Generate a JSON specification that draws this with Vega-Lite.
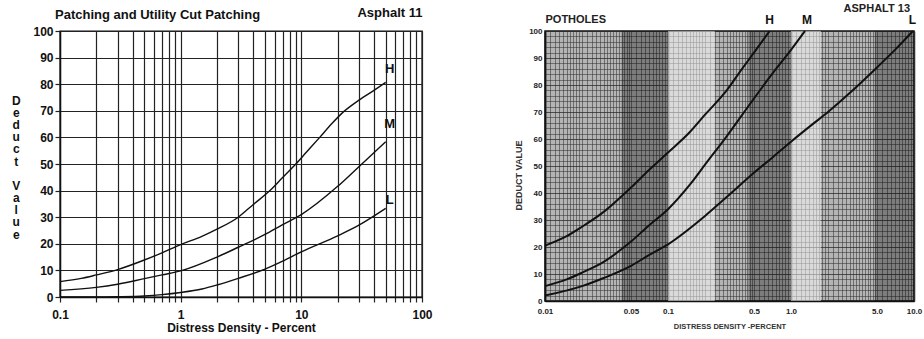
{
  "$schema": "https://vega.github.io/schema/vega-lite/v6.json",
  "background": "white",
  "padding": {"left": 10, "top": 2, "right": 0, "bottom": 0},
  "spacing": 80,
  "config": {"font": "Liberation Sans", "view": {"stroke": null}},
  "datasets": {
    "patching": [
      {"severity": "H", "density": 0.1, "deduct": 5.8},
      {"severity": "H", "density": 0.15, "deduct": 7},
      {"severity": "H", "density": 0.2, "deduct": 8.3},
      {"severity": "H", "density": 0.3, "deduct": 10.3},
      {"severity": "H", "density": 0.5, "deduct": 13.9},
      {"severity": "H", "density": 0.7, "deduct": 16.6},
      {"severity": "H", "density": 1, "deduct": 19.7},
      {"severity": "H", "density": 1.5, "deduct": 22.8},
      {"severity": "H", "density": 2, "deduct": 25.5},
      {"severity": "H", "density": 3, "deduct": 30},
      {"severity": "H", "density": 4, "deduct": 34.8},
      {"severity": "H", "density": 5.5, "deduct": 40},
      {"severity": "H", "density": 7, "deduct": 44.9},
      {"severity": "H", "density": 9, "deduct": 50},
      {"severity": "H", "density": 11, "deduct": 54.4},
      {"severity": "H", "density": 14.2, "deduct": 60},
      {"severity": "H", "density": 18, "deduct": 65.3},
      {"severity": "H", "density": 22.2, "deduct": 69.5},
      {"severity": "H", "density": 30, "deduct": 74},
      {"severity": "H", "density": 40, "deduct": 77.7},
      {"severity": "H", "density": 50, "deduct": 80.7},
      {"severity": "M", "density": 0.1, "deduct": 2.5},
      {"severity": "M", "density": 0.2, "deduct": 3.6},
      {"severity": "M", "density": 0.3, "deduct": 4.8},
      {"severity": "M", "density": 0.5, "deduct": 6.9},
      {"severity": "M", "density": 0.7, "deduct": 8.3},
      {"severity": "M", "density": 1, "deduct": 9.8},
      {"severity": "M", "density": 2, "deduct": 15},
      {"severity": "M", "density": 3, "deduct": 18.7},
      {"severity": "M", "density": 5, "deduct": 23.5},
      {"severity": "M", "density": 7, "deduct": 27.2},
      {"severity": "M", "density": 10, "deduct": 31},
      {"severity": "M", "density": 20, "deduct": 41.6},
      {"severity": "M", "density": 30, "deduct": 49},
      {"severity": "M", "density": 50, "deduct": 58.4},
      {"severity": "L", "density": 0.1, "deduct": 0},
      {"severity": "L", "density": 0.2, "deduct": 0},
      {"severity": "L", "density": 0.3, "deduct": 0.1},
      {"severity": "L", "density": 0.5, "deduct": 0.4},
      {"severity": "L", "density": 0.7, "deduct": 0.9},
      {"severity": "L", "density": 1, "deduct": 1.7},
      {"severity": "L", "density": 1.5, "deduct": 3},
      {"severity": "L", "density": 2, "deduct": 4.5},
      {"severity": "L", "density": 3, "deduct": 7},
      {"severity": "L", "density": 5, "deduct": 10.5},
      {"severity": "L", "density": 7, "deduct": 13.5},
      {"severity": "L", "density": 10, "deduct": 17},
      {"severity": "L", "density": 20, "deduct": 23},
      {"severity": "L", "density": 30, "deduct": 27},
      {"severity": "L", "density": 50, "deduct": 33.3}
    ],
    "patchingLabels": [
      {"severity": "H", "density": 54, "deduct": 85.6},
      {"severity": "M", "density": 54, "deduct": 65.2},
      {"severity": "L", "density": 54, "deduct": 36.4}
    ],
    "potholes": [
      {"severity": "H", "density": 0.01, "deduct": 20.5},
      {"severity": "H", "density": 0.015, "deduct": 24},
      {"severity": "H", "density": 0.02, "deduct": 27.5},
      {"severity": "H", "density": 0.03, "deduct": 33},
      {"severity": "H", "density": 0.05, "deduct": 42},
      {"severity": "H", "density": 0.07, "deduct": 48.5},
      {"severity": "H", "density": 0.1, "deduct": 55},
      {"severity": "H", "density": 0.15, "deduct": 62.5},
      {"severity": "H", "density": 0.2, "deduct": 69},
      {"severity": "H", "density": 0.3, "deduct": 78},
      {"severity": "H", "density": 0.4, "deduct": 86},
      {"severity": "H", "density": 0.5, "deduct": 92},
      {"severity": "H", "density": 0.67, "deduct": 100},
      {"severity": "M", "density": 0.01, "deduct": 5.5},
      {"severity": "M", "density": 0.015, "deduct": 8},
      {"severity": "M", "density": 0.02, "deduct": 10.5},
      {"severity": "M", "density": 0.03, "deduct": 14.5},
      {"severity": "M", "density": 0.05, "deduct": 22},
      {"severity": "M", "density": 0.07, "deduct": 28},
      {"severity": "M", "density": 0.1, "deduct": 34},
      {"severity": "M", "density": 0.15, "deduct": 43},
      {"severity": "M", "density": 0.2, "deduct": 50.5},
      {"severity": "M", "density": 0.3, "deduct": 61},
      {"severity": "M", "density": 0.5, "deduct": 75},
      {"severity": "M", "density": 0.7, "deduct": 84},
      {"severity": "M", "density": 1, "deduct": 93},
      {"severity": "M", "density": 1.3, "deduct": 100},
      {"severity": "L", "density": 0.01, "deduct": 2},
      {"severity": "L", "density": 0.02, "deduct": 5.5},
      {"severity": "L", "density": 0.03, "deduct": 8.5},
      {"severity": "L", "density": 0.05, "deduct": 13},
      {"severity": "L", "density": 0.07, "deduct": 17},
      {"severity": "L", "density": 0.1, "deduct": 21},
      {"severity": "L", "density": 0.2, "deduct": 31.5},
      {"severity": "L", "density": 0.3, "deduct": 38.5},
      {"severity": "L", "density": 0.5, "deduct": 47.5},
      {"severity": "L", "density": 0.7, "deduct": 53},
      {"severity": "L", "density": 1, "deduct": 59},
      {"severity": "L", "density": 1.5, "deduct": 65.5},
      {"severity": "L", "density": 2, "deduct": 70},
      {"severity": "L", "density": 3, "deduct": 77},
      {"severity": "L", "density": 5, "deduct": 86.5},
      {"severity": "L", "density": 7, "deduct": 93},
      {"severity": "L", "density": 9.8, "deduct": 100}
    ],
    "potholeLabels": [
      {"severity": "H", "density": 0.67, "deduct": 100},
      {"severity": "M", "density": 1.35, "deduct": 100},
      {"severity": "L", "density": 9.7, "deduct": 100}
    ],
    "bands": [
      {"from": 0.042, "to": 0.1, "tone": "dark"},
      {"from": 0.45, "to": 0.99, "tone": "dark"},
      {"from": 4.8, "to": 10, "tone": "dark"},
      {"from": 0.1, "to": 0.24, "tone": "light"},
      {"from": 1.0, "to": 1.75, "tone": "light"}
    ]
  },
  "hconcat": [
    {
      "width": 362,
      "height": 266,
      "view": {"stroke": "#111", "strokeWidth": 1.4, "fill": "white"},
      "title": {"text": "Patching and Utility Cut Patching", "anchor": "start", "frame": "group", "dx": -5, "offset": -16, "fontSize": 13, "fontWeight": "bold", "color": "#111", "font": "Liberation Sans"},
      "resolve": {"axis": {"x": "independent"}},
      "encoding": {
        "y": {
          "field": "deduct", "type": "quantitative",
          "scale": {"domain": [0, 100], "nice": false},
          "axis": {
            "orient": "left",
            "values": [0, 10, 20, 30, 40, 50, 60, 70, 80, 90, 100],
            "labelFont": "Liberation Sans", "labelFontWeight": "bold", "labelFontSize": 12, "labelColor": "#111", "labelPadding": 2,
            "tickSize": 5, "tickColor": "#222", "tickWidth": 1.2,
            "grid": true, "gridColor": "#222", "gridWidth": 1.2, "gridOpacity": 1,
            "domain": true, "domainColor": "#111", "domainWidth": 1.4,
            "title": ["D", "e", "d", "u", "c", "t", "\u200b", "V", "a", "l", "u", "e"],
            "titleAngle": 0, "titleAlign": "center", "titleBaseline": "middle", "titleLineHeight": 12.2, "titleY": 69,
            "titleFont": "Liberation Sans", "titleFontSize": 12, "titleFontWeight": "bold", "titleColor": "#111", "titlePadding": -117
          }
        }
      },
      "layer": [
        {
          "data": {"name": "patching"},
          "mark": {"type": "line", "interpolate": "monotone", "color": "#111", "strokeWidth": 1.4},
          "encoding": {
            "x": {
              "field": "density", "type": "quantitative",
              "scale": {"type": "log", "domain": [0.1, 100], "nice": false},
              "axis": {
                "orient": "bottom",
                "values": [0.1, 0.2, 0.3, 0.4, 0.5, 0.6, 0.7, 0.8, 0.9, 1, 2, 3, 4, 5, 6, 7, 8, 9, 10, 20, 30, 40, 50, 60, 70, 80, 90, 100],
                "format": "~g",
                "labelExpr": "(datum.value == 0.1 || datum.value == 1 || datum.value == 10 || datum.value == 100) ? datum.label : ''",
                "labelFlush": false, "labelOverlap": false, "labelBound": false,
                "labelFont": "Liberation Sans", "labelFontWeight": "bold", "labelFontSize": 12, "labelColor": "#111", "labelPadding": 7,
                "tickSize": 5, "tickColor": "#222", "tickWidth": 1.2,
                "grid": true, "gridColor": "#222", "gridWidth": 1.2, "gridOpacity": 1,
                "domain": true, "domainColor": "#111", "domainWidth": 1.4,
                "title": "Distress Density - Percent", "titleFont": "Liberation Sans", "titleFontSize": 12, "titleFontWeight": "bold", "titleColor": "#111", "titlePadding": 2
              }
            },
            "detail": {"field": "severity", "type": "nominal"}
          }
        },
        {
          "data": {"name": "patchingLabels"},
          "mark": {"type": "text", "font": "Liberation Sans", "fontWeight": "bold", "fontSize": 13, "color": "#111", "baseline": "middle", "align": "center"},
          "encoding": {
            "x": {
              "field": "density", "type": "quantitative",
              "scale": {"type": "log", "domain": [0.1, 100], "nice": false},
              "axis": {"orient": "top", "labels": false, "ticks": false, "domain": false, "grid": false,
                "title": "Asphalt 11", "titleAnchor": "end", "titleAlign": "right", "titlePadding": 12,
                "titleFont": "Liberation Sans", "titleFontSize": 13, "titleFontWeight": "bold", "titleColor": "#111"}
            },
            "text": {"field": "severity", "type": "nominal"}
          }
        }
      ]
    },
    {
      "width": 369,
      "height": 270,
      "view": {"fill": "#b4b4b4", "stroke": "#111", "strokeWidth": 1.5},
      "title": {"text": "ASPHALT 13", "anchor": "end", "frame": "group", "dx": -4, "offset": -1, "fontSize": 11, "fontWeight": "bold", "color": "#222", "font": "Liberation Sans"},
      "resolve": {"axis": {"x": "independent"}},
      "encoding": {
        "y": {
          "field": "deduct", "type": "quantitative",
          "scale": {"domain": [0, 100], "nice": false},
          "axis": {
            "orient": "left",
            "values": [0, 2, 4, 6, 8, 10, 12, 14, 16, 18, 20, 22, 24, 26, 28, 30, 32, 34, 36, 38, 40, 42, 44, 46, 48, 50, 52, 54, 56, 58, 60, 62, 64, 66, 68, 70, 72, 74, 76, 78, 80, 82, 84, 86, 88, 90, 92, 94, 96, 98, 100],
            "labelExpr": "datum.value % 10 == 0 ? datum.label : ''",
            "labelOverlap": false, "labelBound": false,
            "labelFont": "Liberation Sans", "labelFontWeight": "bold", "labelFontSize": 8, "labelColor": "#222", "labelPadding": 3,
            "tickSize": 0,
            "grid": true, "gridColor": "#2a2a2a", "gridOpacity": 0.85,
            "gridWidth": {"condition": {"test": "datum.value % 10 == 0", "value": 0.9}, "value": 0.6},
            "domain": true, "domainColor": "#111", "domainWidth": 1.5,
            "title": "DEDUCT VALUE", "titleFont": "Liberation Sans", "titleFontSize": 9, "titleFontWeight": "bold", "titleColor": "#333", "titlePadding": 5, "titleY": 144
          }
        }
      },
      "layer": [
        {
          "data": {"name": "bands"},
          "mark": {"type": "rect"},
          "encoding": {
            "x": {"field": "from", "type": "quantitative", "scale": {"type": "log", "domain": [0.01, 10], "nice": false}, "axis": null},
            "x2": {"field": "to"},
            "y": null,
            "color": {"field": "tone", "type": "nominal", "scale": {"domain": ["dark", "light"], "range": ["#000000", "#ffffff"]}, "legend": null},
            "opacity": {"field": "tone", "type": "nominal", "scale": {"domain": ["dark", "light"], "range": [0.3, 0.5]}, "legend": null}
          }
        },
        {
          "data": {"name": "potholes"},
          "mark": {"type": "line", "interpolate": "monotone", "color": "#111", "strokeWidth": 2},
          "encoding": {
            "x": {
              "field": "density", "type": "quantitative",
              "scale": {"type": "log", "domain": [0.01, 10], "nice": false},
              "axis": {
                "orient": "bottom",
                "values": [0.01, 0.011, 0.012, 0.013, 0.014, 0.015, 0.016, 0.017, 0.018, 0.019, 0.02, 0.022, 0.024, 0.026, 0.028, 0.03, 0.032, 0.034, 0.036, 0.038, 0.04, 0.042, 0.044, 0.046, 0.048, 0.05, 0.055, 0.06, 0.065, 0.07, 0.075, 0.08, 0.085, 0.09, 0.095, 0.1, 0.11, 0.12, 0.13, 0.14, 0.15, 0.16, 0.17, 0.18, 0.19, 0.2, 0.22, 0.24, 0.26, 0.28, 0.3, 0.32, 0.34, 0.36, 0.38, 0.4, 0.42, 0.44, 0.46, 0.48, 0.5, 0.55, 0.6, 0.65, 0.7, 0.75, 0.8, 0.85, 0.9, 0.95, 1, 1.1, 1.2, 1.3, 1.4, 1.5, 1.6, 1.7, 1.8, 1.9, 2, 2.2, 2.4, 2.6, 2.8, 3, 3.2, 3.4, 3.6, 3.8, 4, 4.2, 4.4, 4.6, 4.8, 5, 5.5, 6, 6.5, 7, 7.5, 8, 8.5, 9, 9.5, 10],
                "labelExpr": "datum.value == 0.01 ? '0.01' : datum.value == 0.05 ? '0.05' : datum.value == 0.1 ? '0.1' : datum.value == 0.5 ? '0.5' : datum.value == 1 ? '1.0' : datum.value == 5 ? '5.0' : datum.value == 10 ? '10.0' : ''",
                "labelFlush": false, "labelOverlap": false, "labelBound": false,
                "labelFont": "Liberation Sans", "labelFontWeight": "bold", "labelFontSize": 8, "labelColor": "#222", "labelPadding": 6,
                "tickSize": 0,
                "grid": true, "gridColor": "#2a2a2a", "gridOpacity": 0.85,
                "gridWidth": {"condition": {"test": "datum.value == 0.01 || datum.value == 0.1 || datum.value == 1 || datum.value == 10", "value": 1.6}, "value": 0.6},
                "domain": true, "domainColor": "#111", "domainWidth": 1.5,
                "title": "DISTRESS DENSITY -PERCENT", "titleFont": "Liberation Sans", "titleFontSize": 7.5, "titleFontWeight": "bold", "titleColor": "#333", "titlePadding": 7
              }
            },
            "detail": {"field": "severity", "type": "nominal"}
          }
        },
        {
          "data": {"name": "potholeLabels"},
          "mark": {"type": "text", "font": "Liberation Sans", "fontWeight": "bold", "fontSize": 12, "color": "#111", "baseline": "bottom", "align": "center", "dy": -4},
          "encoding": {
            "x": {
              "field": "density", "type": "quantitative",
              "scale": {"type": "log", "domain": [0.01, 10], "nice": false},
              "axis": {"orient": "top", "labels": false, "ticks": false, "domain": false, "grid": false,
                "title": "POTHOLES", "titleAnchor": "start", "titleAlign": "left", "titlePadding": 7,
                "titleFont": "Liberation Sans", "titleFontSize": 11, "titleFontWeight": "bold", "titleColor": "#222"}
            },
            "text": {"field": "severity", "type": "nominal"}
          }
        }
      ]
    }
  ]
}
